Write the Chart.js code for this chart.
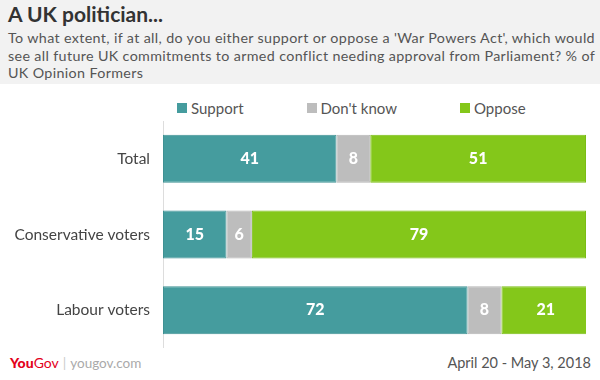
<!DOCTYPE html>
<html>
<head>
<meta charset="utf-8">
<script src="https://cdn.jsdelivr.net/npm/chart.js@4.4.1/dist/chart.umd.min.js"></script>
<style>
  html, body { margin:0; padding:0; background:#fff; }
  body { width:600px; height:380px; position:relative; overflow:hidden; font-family: Lato, "Open Sans", sans-serif; }
  #header { position:absolute; left:0; top:0; width:600px; height:84px; background:#f2f2f2; }
  #title { position:absolute; left:8px; top:1px; font-size:21px; font-weight:bold; color:#333; }
  #subtitle { position:absolute; left:8px; top:29px; width:590px; font-size:14.3px; line-height:17.5px; color:#555; letter-spacing:0.35px; }
  #legend { position:absolute; left:177px; top:99px; display:flex; gap:63px; font-size:15px; color:#555; z-index:2; }
  #legend .item { display:flex; align-items:center; }
  #legend .box { width:10px; height:10px; margin-right:4px; }
  #c { position:absolute; left:0; top:121px; z-index:1; }
  #footer-logo { position:absolute; left:10px; top:354px; font-size:14px; color:#e3001b; z-index:2; }
  #footer-logo b { font-weight:900; }
  #footer-logo .sep { color:#ccc; margin:0 4px; font-weight:normal; }
  #footer-logo .url { color:#aaa; font-size:13.5px; }
  #date { position:absolute; right:9px; top:354px; font-size:14.5px; color:#555; z-index:2; }
</style>
</head>
<body>
<div id="header">
  <div id="title">A UK politician...</div>
  <div id="subtitle">To what extent, if at all, do you either support or oppose a 'War Powers Act', which would see all future UK commitments to armed conflict needing approval from Parliament? % of UK Opinion Formers</div>
</div>
<div id="legend"></div>
<canvas id="c" width="600" height="227"></canvas>
<div id="footer-logo"><b>You</b>Gov<span class="sep">|</span><span class="url">yougov.com</span></div>
<div id="date">April 20 - May 3, 2018</div>
<script>
const categories = ["Total", "Conservative voters", "Labour voters"];
const support = [41, 15, 72];
const dontKnow = [8, 6, 8];
const oppose = [51, 79, 21];
const seriesNames = ["Support", "Don't know", "Oppose"];
const seriesColors = ["#459c9e", "#bdbdbd", "#84c71a"];
const seriesBorders = ["#3f9193", "#b5b5b5", "#7abd14"];

const seriesData = [support, dontKnow, oppose];

const legendEl = document.getElementById('legend');
seriesNames.forEach((n, i) => {
  const it = document.createElement('div');
  it.className = 'item';
  const b = document.createElement('span');
  b.className = 'box';
  b.style.background = seriesColors[i];
  const t = document.createElement('span');
  t.textContent = n;
  it.appendChild(b); it.appendChild(t);
  legendEl.appendChild(it);
});

const valueLabels = {
  id: 'valueLabels',
  afterDatasetsDraw(chart) {
    const ctx = chart.ctx;
    ctx.save();
    ctx.fillStyle = '#fff';
    ctx.font = '900 16px Lato, "Open Sans", sans-serif';
    ctx.textAlign = 'center';
    ctx.textBaseline = 'middle';
    chart.data.datasets.forEach((ds, di) => {
      const meta = chart.getDatasetMeta(di);
      meta.data.forEach((bar, i) => {
        const p = bar.getCenterPoint();
        ctx.fillText(String(ds.data[i]), p.x, p.y);
      });
    });
    ctx.restore();
  }
};

new Chart(document.getElementById('c'), {
  type: 'bar',
  data: {
    labels: categories,
    datasets: seriesNames.map((n, i) => ({
      label: n,
      data: seriesData[i],
      backgroundColor: seriesColors[i],
      borderColor: seriesBorders[i],
      borderWidth: 1,
      borderSkipped: false,
      barPercentage: 0.635,
      categoryPercentage: 1
    }))
  },
  options: {
    indexAxis: 'y',
    responsive: false,
    maintainAspectRatio: false,
    animation: false,
    layout: { padding: { left: 0, right: 14, top: 0, bottom: 0 } },
    plugins: { legend: { display: false }, tooltip: { enabled: false } },
    scales: {
      x: { stacked: true, min: 0, max: 100, display: false },
      y: {
        stacked: true,
        grid: { display: false },
        border: { display: true, color: '#dddddd', width: 1 },
        ticks: { color: '#444', font: { family: 'Lato, "Open Sans", sans-serif', size: 15.5 }, padding: 5 },
        afterFit(scale) {
          scale.width = 163;
          scale.paddingTop = 0;
          scale.paddingBottom = 0;
        }
      }
    }
  },
  plugins: [valueLabels]
});
</script>
</body>
</html>
